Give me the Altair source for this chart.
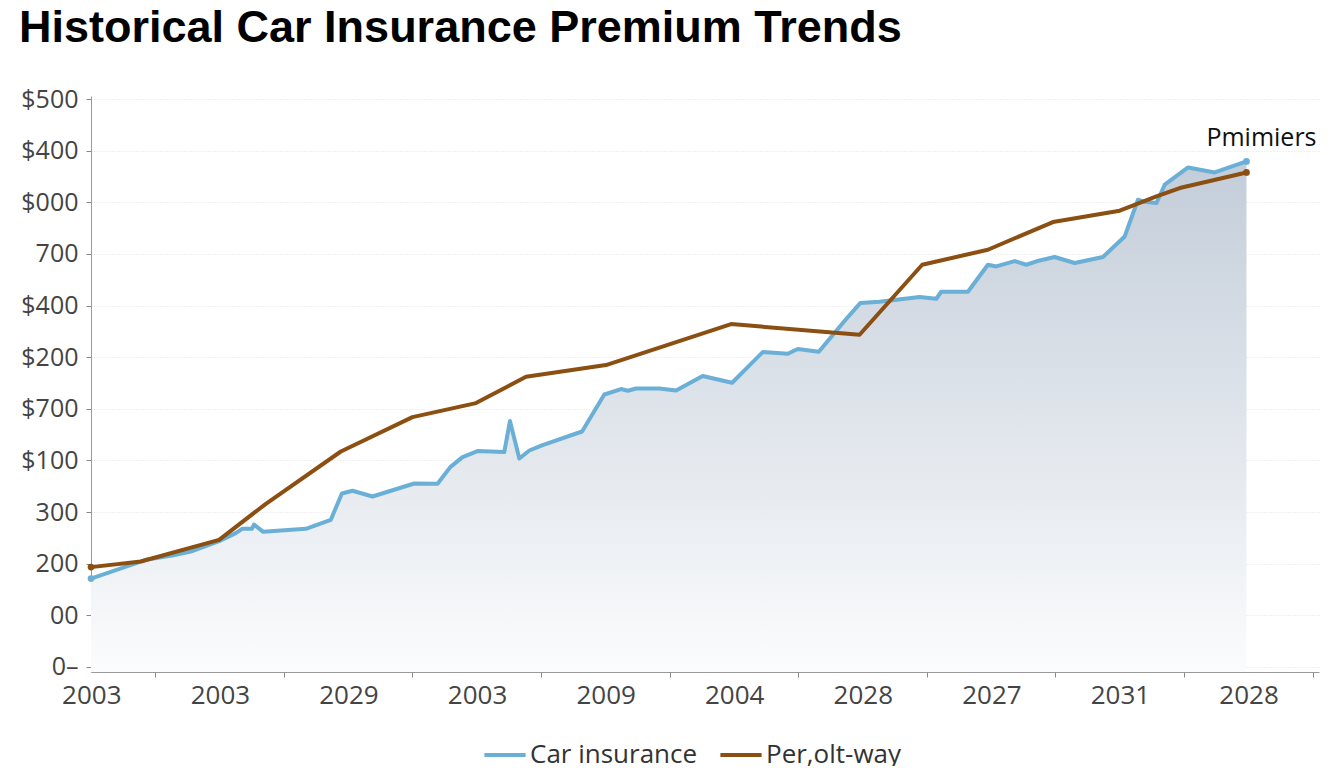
import json
import altair as alt
import pandas as pd

# ---- data ----
x_labels = ["2003", "2003", "2029", "2003", "2009", "2004", "2028", "2027", "2031", "2028"]
y_labels = ["0–", "00", "200", "300", "$100", "$700", "$200", "$400", "700", "$000", "$400", "$500"]

series_names = ["Car insurance", "Per,olt-way"]
series_colors = ["#6aafd6", "#8b4f12"]

car_t = [0.0, 0.426, 0.630, 0.776, 0.996, 1.126, 1.175, 1.251, 1.268, 1.339, 1.671, 1.865,
         1.951, 2.033, 2.189, 2.514, 2.695, 2.794, 2.889, 3.006, 3.214, 3.258, 3.331, 3.409,
         3.512, 3.819, 3.992, 4.122, 4.174, 4.239, 4.420, 4.550, 4.757, 4.986, 5.224, 5.419,
         5.496, 5.660, 5.873, 5.982, 6.132, 6.444, 6.574, 6.612, 6.820, 6.975, 7.040, 7.183,
         7.274, 7.377, 7.494, 7.650, 7.870, 8.039, 8.142, 8.181, 8.286, 8.350, 8.532, 8.739,
         8.986]
car_v = [1.711, 2.074, 2.157, 2.234, 2.436, 2.591, 2.674, 2.674, 2.758, 2.616, 2.674, 2.849,
         3.359, 3.411, 3.300, 3.552, 3.547, 3.870, 4.064, 4.180, 4.161, 4.762, 4.037, 4.192,
         4.297, 4.560, 5.277, 5.382, 5.349, 5.393, 5.393, 5.355, 5.634, 5.504, 6.099, 6.066,
         6.157, 6.105, 6.738, 7.048, 7.074, 7.165, 7.132, 7.267, 7.267, 7.791, 7.758, 7.862,
         7.791, 7.874, 7.940, 7.824, 7.940, 8.339, 9.050, 9.017, 8.986, 9.341, 9.676, 9.579,
         9.793]

per_t = [0.0, 0.387, 0.996, 1.360, 1.943, 2.500, 2.994, 3.383, 4.005, 4.978, 5.977, 6.464,
         6.975, 7.481, 8.000, 8.286, 8.467, 8.986]
per_v = [1.932, 2.041, 2.461, 3.159, 4.172, 4.839, 5.110, 5.620, 5.847, 6.641, 6.434, 7.791,
         8.081, 8.618, 8.837, 9.114, 9.277, 9.579]

annotation = "Pmimiers"
title_text = "Historical Car Insurance Premium Trends"

# ---- tables built from the lists ----
car = pd.DataFrame({"t": car_t, "v": car_v, "series": series_names[0]})
per = pd.DataFrame({"t": per_t, "v": per_v, "series": series_names[1]})
lines = pd.concat([car, per], ignore_index=True)
ends = pd.DataFrame({
    "t": [car_t[0], car_t[-1], per_t[0], per_t[-1]],
    "v": [car_v[0], car_v[-1], per_v[0], per_v[-1]],
    "series": [series_names[0], series_names[0], series_names[1], series_names[1]],
})
note = pd.DataFrame({"t": [car_t[-1]], "v": [car_v[-1]], "label": [annotation]})

W, H = 1228, 576
FONT = "Open Sans"

x_scale = alt.Scale(domain=[0, 9.55], nice=False, zero=False)
y_scale = alt.Scale(domain=[-0.1, 11.06], nice=False, zero=False)
color_scale = alt.Scale(domain=series_names, range=series_colors)

x_axis = alt.Axis(
    values=[i + 0.5 for i in range(len(x_labels))],
    labelExpr=json.dumps(x_labels, ensure_ascii=False) + "[floor(datum.value)]",
    labelOffset=-64, title=None, grid=False,
    labelFont=FONT, labelFontSize=26, labelColor="#444",
    tickSize=5, tickColor="#888", domainColor="#999", labelPadding=5,
    labelFlush=False, labelOverlap=False,
)
y_axis = alt.Axis(
    values=list(range(len(y_labels))),
    labelExpr=json.dumps(y_labels, ensure_ascii=False) + "[round(datum.value)]",
    title=None, grid=True, gridColor="#e2e2e2", gridDash=[1, 2], gridWidth=1,
    labelFont=FONT, labelFontSize=25, labelColor="#444",
    tickSize=5, tickColor="#888", domainColor="#999", labelPadding=8,
    labelFlush=False, labelOverlap=False,
)

area = alt.Chart(car).mark_area(
    color=alt.Gradient(
        gradient="linear", x1=0, y1=0, x2=0, y2=1,
        stops=[alt.GradientStop(offset=0, color="#c3cdd9"),
               alt.GradientStop(offset=1, color="#fbfcfd")],
    )
).encode(
    x=alt.X("t:Q", scale=x_scale, axis=x_axis),
    y=alt.Y("v:Q", scale=y_scale, axis=y_axis),
    y2=alt.datum(-0.1),
)

line = alt.Chart(lines).mark_line(strokeWidth=4, strokeJoin="round", strokeCap="round").encode(
    x=alt.X("t:Q", scale=x_scale),
    y=alt.Y("v:Q", scale=y_scale),
    color=alt.Color(
        "series:N", scale=color_scale, sort=series_names,
        legend=alt.Legend(
            title=None, orient="none", direction="horizontal",
            legendX=391, legendY=636,
            symbolType="stroke", symbolSize=1700, symbolStrokeWidth=4,
            labelFont=FONT, labelFontSize=26, labelColor="#333", labelLimit=400,
            labelOffset=2, columnPadding=14,
        ),
    ),
    detail="series:N",
)

points = alt.Chart(ends).mark_circle(size=45, opacity=1).encode(
    x=alt.X("t:Q", scale=x_scale),
    y=alt.Y("v:Q", scale=y_scale),
    color=alt.Color("series:N", scale=color_scale, legend=None),
)

text = alt.Chart(note).mark_text(
    dx=15, dy=-23, font=FONT, fontSize=25, color="#111", align="center", baseline="middle"
).encode(
    x=alt.X("t:Q", scale=x_scale),
    y=alt.Y("v:Q", scale=y_scale),
    text="label:N",
)

chart = alt.layer(area, line, points, text).properties(
    width=W, height=H,
    title=alt.TitleParams(
        title_text, font="Liberation Sans", fontSize=45, fontWeight="bold",
        color="#000", anchor="start", frame="group", dx=-72, offset=0,
        baseline="alphabetic",
    ),
    autosize=alt.AutoSizeParams(type="none"),
    padding={"left": 83, "top": 88, "right": 17, "bottom": 94},
    background="white",
).configure_view(stroke=None)

chart.save("out.html", embed_options={"renderer": "svg", "actions": False})
